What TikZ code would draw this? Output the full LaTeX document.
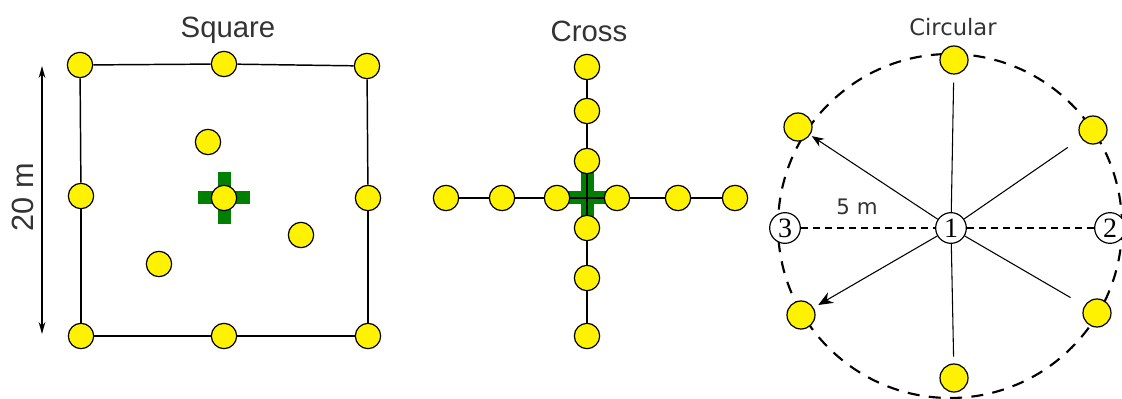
\documentclass[tikz,border=0pt]{standalone}
\usepackage{fontspec}
\setmainfont{Liberation Sans}
\newfontfamily\tahomafont{DejaVu Sans}
\newfontfamily\numfont{Liberation Serif}
\usetikzlibrary{arrows.meta}

\begin{document}
\begin{tikzpicture}[x=0.75pt, y=-0.75pt,
  dot/.style={draw, circle, fill=yellow, line width=0.9pt, minimum size=19pt, inner sep=0pt},
  num/.style={draw, circle, fill=white, line width=0.9pt, minimum size=23pt, inner sep=0pt, font=\numfont\fontsize{21}{21}\selectfont},
  edge/.style={draw, line width=1.1pt},
  ray/.style={draw, line width=0.8pt},
  plus/.style={fill=green!50!black},
  title/.style={font=\fontsize{22}{24}\selectfont, text=black!80}]
\useasboundingbox (0,0) rectangle (1122,399);
\clip (0,0) rectangle (1122,399);

% square plot
\node[title] (sqtitle) at (228,30) {Square};
\fill[plus] (224,198) +(-26,-6.5) rectangle +(26,6.5);
\fill[plus] (224,198) +(-6.5,-26) rectangle +(6.5,26);
\node[dot] (s1) at (80,65) {};
\node[dot] (s2) at (224,64) {};
\node[dot] (s3) at (367,66) {};
\node[dot] (s4) at (81,196) {};
\node[dot] (s5) at (368,198) {};
\node[dot] (s6) at (81,336) {};
\node[dot] (s7) at (224,336) {};
\node[dot] (s8) at (368,336) {};
\node[dot] (s9) at (208,142) {};
\node[dot] (s10) at (224,198) {};
\node[dot] (s11) at (301,235) {};
\node[dot] (s12) at (159,264) {};

\path[edge] (s1) -- (s2);
\path[edge] (s2) -- (s3);
\path[edge] (s3) -- (s5);
\path[edge] (s5) -- (s8);
\path[edge] (s8) -- (s7);
\path[edge] (s7) -- (s6);
\path[edge] (s6) -- (s4);
\path[edge] (s4) -- (s1);

\coordinate (atop) at (42,66);
\coordinate (abot) at (42,334);
\path[draw, line width=1pt, {Stealth[length=9pt,width=5pt]}-{Stealth[length=9pt,width=5pt]}] (atop) -- (abot);
\node[rotate=90, font=\fontsize{23}{24}\selectfont, text=black!80] (len) at (23,197) {20 m};

% cross plot
\node[title] (crtitle) at (589,31) {Cross};
\fill[plus] (587,198) +(-26,-6.5) rectangle +(26,6.5);
\fill[plus] (587,198) +(-6.5,-26) rectangle +(6.5,26);
\node[dot] (v1) at (587,67) {};
\node[dot] (v2) at (587,111) {};
\node[dot] (v3) at (587,161) {};
\node[dot] (v4) at (587,228) {};
\node[dot] (v5) at (587,278) {};
\node[dot] (v6) at (587,336) {};
\node[dot] (h1) at (446,198) {};
\node[dot] (h2) at (502,198) {};
\node[dot] (h3) at (557,198) {};
\node[dot] (h4) at (617,198) {};
\node[dot] (h5) at (678,198) {};
\node[dot] (h6) at (735,198) {};

\path[edge] (v1) -- (v2);
\path[edge] (v2) -- (v3);
\path[edge] (v3) -- (v4);
\path[edge] (v4) -- (v5);
\path[edge] (v5) -- (v6);
\path[edge] (h1) -- (h2);
\path[edge] (h2) -- (h3);
\path[edge] (h3) -- (h4);
\path[edge] (h4) -- (h5);
\path[edge] (h5) -- (h6);

% circular plot
\node[font=\tahomafont\fontsize{17}{19}\selectfont, text=black!80] (cititle) at (953,27) {Circular};
\draw[line width=1.6pt, dash pattern=on 9pt off 7pt] (950,226) circle (129pt);
\node[num] (1) at (951,228) {1};
\node[num] (2) at (1110,228) {2};
\node[num] (3) at (785,228) {3};
\node[dot, minimum size=21pt] (top) at (954,60) {};
\node[dot, minimum size=21pt] (ul) at (798,127) {};
\node[dot, minimum size=21pt] (ur) at (1093,130) {};
\node[dot, minimum size=21pt] (ll) at (801,315) {};
\node[dot, minimum size=21pt] (lr) at (1097,313) {};
\node[dot, minimum size=21pt] (bot) at (954,378) {};

\path[ray, shorten >=6pt] (1) -- (top);
\path[ray, shorten >=12pt] (1) -- (ur);
\path[ray, shorten >=12pt] (1) -- (lr);
\path[ray, shorten >=5pt] (1) -- (bot);
\path[ray, shorten >=1.5pt, -{Stealth[length=9pt,width=7pt]}] (1) -- (ul);
\path[ray, shorten >=4pt, -{Stealth[length=11pt,width=9pt]}] (1) -- (ll);
\path[ray, dash pattern=on 5pt off 4pt] (3) -- (1);
\path[ray, dash pattern=on 5pt off 4pt] (1) -- (2);
\node[font=\tahomafont\fontsize{16}{18}\selectfont, text=black!80] (rad) at (857,207) {5 m};
\end{tikzpicture}
\end{document}
